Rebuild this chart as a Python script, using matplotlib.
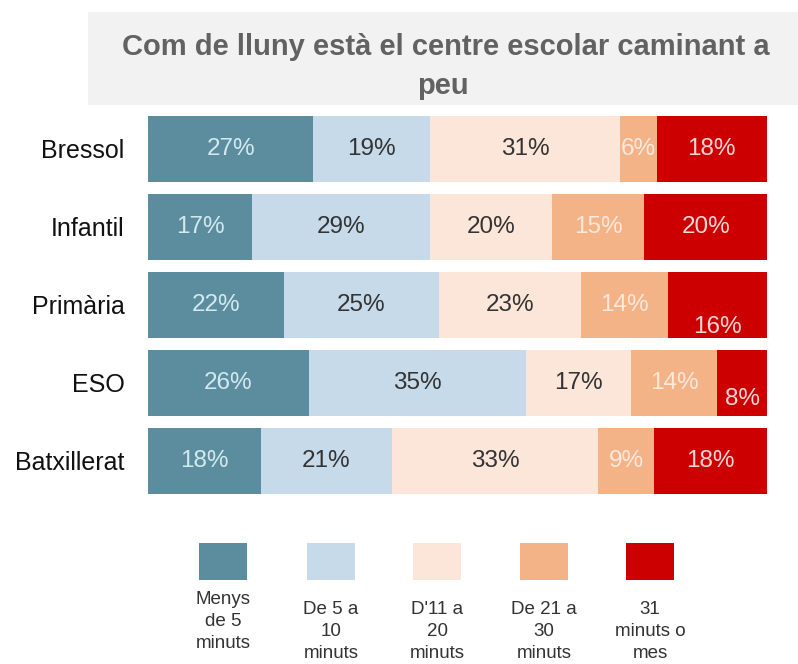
import matplotlib.pyplot as plt
import numpy as np
from matplotlib.patches import Rectangle

plt.rcParams['font.family'] = ['Liberation Sans', 'DejaVu Sans']

# data
levels = ['Bressol', 'Infantil', 'Primària', 'ESO', 'Batxillerat']
ranges = ['Menys\nde 5\nminuts', 'De 5 a\n10\nminuts', "D'11 a\n20\nminuts",
          'De 21 a\n30\nminuts', '31\nminuts o\nmes']
menys5 = [27, 17, 22, 26, 18]
de5a10 = [19, 29, 25, 35, 21]
de11a20 = [31, 20, 23, 17, 33]
de21a30 = [6, 15, 14, 14, 9]
mes31 = [18, 20, 16, 8, 18]

series = [menys5, de5a10, de11a20, de21a30, mes31]
colors = ['#5b8d9e', '#c6dae9', '#fbe6d9', '#f4b287', '#cc0000']
txt_colors = ['#d2e9f0', '#333333', '#333333', '#fde8dc', '#fad6d6']

fig = plt.figure(figsize=(7.98, 6.64), dpi=100)

# title box
fig.patches.append(Rectangle((88 / 798, 1 - 105 / 664), 710 / 798, 93 / 664,
                             transform=fig.transFigure, facecolor='#f2f2f2',
                             edgecolor='none', zorder=0))
fig.text(446 / 798, 1 - 47 / 664, 'Com de lluny està el centre escolar caminant a',
         ha='center', va='center', fontsize=21, fontweight='bold', color='#626262')
fig.text(443 / 798, 1 - 86 / 664, 'peu',
         ha='center', va='center', fontsize=21, fontweight='bold', color='#626262')

ax = fig.add_axes([148 / 798, 1 - 500 / 664, 619 / 798, 390 / 664])
y = np.arange(len(levels))
# every row is stretched to the full bar width (100%)
totals = np.sum(np.array(series, dtype=float), axis=0)
left = np.zeros(len(levels))
for k, vals in enumerate(series):
    vals = np.array(vals, dtype=float)
    w = vals / totals * 100
    ax.barh(y, w, left=left, height=0.84, color=colors[k], edgecolor='none')
    for i, v in enumerate(vals):
        dy = 0
        # labels pushed down in the narrow red segments
        if k == 4 and levels[i] == 'Primària':
            dy = 0.28
        if k == 4 and levels[i] == 'ESO':
            dy = 0.2
        ax.text(left[i] + w[i] / 2, y[i] + dy, f'{int(v)}%', ha='center',
                va='center', fontsize=17.5, color=txt_colors[k])
    left += w

ax.set_xlim(0, 100)
ax.set_ylim(len(levels) - 0.5, -0.5)
ax.set_yticks(y)
ax.set_yticklabels(levels, fontsize=18, color='#111111')
ax.tick_params(axis='y', length=0, pad=17)
ax.set_xticks([])
for s in ax.spines.values():
    s.set_visible(False)

# legend drawn below
xs = [223, 331, 437, 544, 650]
for k, lab in enumerate(ranges):
    fig.patches.append(Rectangle(((xs[k] - 24) / 798, 1 - 580 / 664), 48 / 798, 37 / 664,
                                 transform=fig.transFigure, facecolor=colors[k],
                                 edgecolor='none'))
    top = 591 if k == 0 else 601
    fig.text(xs[k] / 798, 1 - top / 664, lab, ha='center', va='top',
             fontsize=13.5, color='#333333', linespacing=1.4)

fig.savefig('out.png', dpi=100)
